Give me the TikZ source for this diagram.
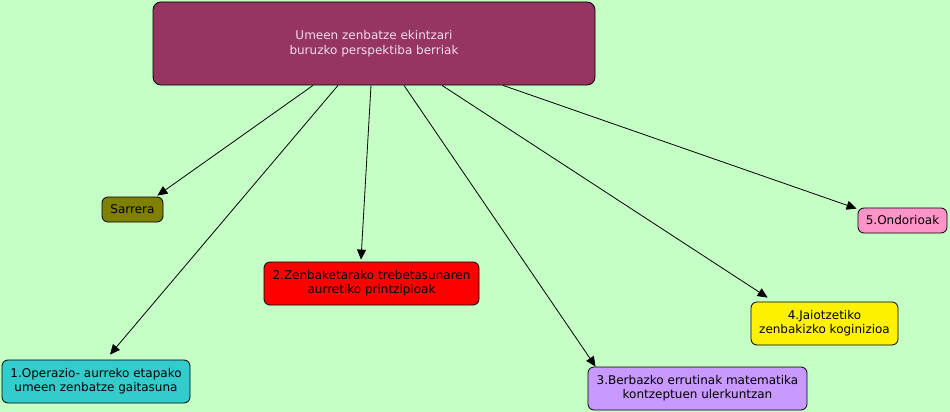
\documentclass[tikz,border=0pt]{standalone}
\usepackage{fontspec}
\setmainfont{DejaVu Sans}
\usetikzlibrary{arrows.meta}
\definecolor{bgc}{RGB}{197,255,197}
\definecolor{mainc}{RGB}{150,52,98}
\definecolor{mtext}{RGB}{245,220,236}
\definecolor{olivec}{RGB}{128,128,0}
\definecolor{tealc}{RGB}{51,204,204}
\definecolor{lavc}{RGB}{200,153,255}
\definecolor{pinkc}{RGB}{255,148,200}
\tikzset{
  box/.style={draw=black, line width=0.8pt, rounded corners=6pt, align=center,
    inner sep=0pt, font=\fontsize{12}{14}\selectfont, text=black},
  conn/.style={line width=0.8pt, -{Triangle[length=10pt,width=9pt]}},
}
\begin{document}
\begin{tikzpicture}[x=1pt,y=-1pt]
\fill[bgc] (0,0) rectangle (950,412);
\useasboundingbox (0,0) rectangle (950,412);
\node[box, fill=mainc, text=mtext, rounded corners=8pt, minimum width=442pt, minimum height=83pt,
  font=\fontsize{12}{15}\selectfont] (main) at (374,43.5) {Umeen zenbatze ekintzari\\buruzko perspektiba berriak};
\node[box, fill=olivec, minimum width=61pt, minimum height=25pt] (sar) at (132.5,209.5) {Sarrera};
\node[box, fill=red, minimum width=215pt, minimum height=43pt] (n2) at (371.5,283.5) {2.Zenbaketarako trebetasunaren\\aurretiko printzipioak};
\node[box, fill=tealc, minimum width=188pt, minimum height=43pt] (n1) at (96,381.5) {1.Operazio- aurreko etapako\\umeen zenbatze gaitasuna};
\node[box, fill=lavc, minimum width=219pt, minimum height=43pt] (n3) at (697.5,388.5) {3.Berbazko errutinak matematika\\kontzeptuen ulerkuntzan};
\node[box, fill=yellow, minimum width=147pt, minimum height=43pt] (n4) at (824.5,323.5) {4.Jaiotzetiko\\zenbakizko koginizioa};
\node[box, fill=pinkc, minimum width=89pt, minimum height=25pt] (n5) at (902.5,220.5) {5.Ondorioak};

\draw[conn] ([xshift=-61pt]main.south) -- ([xshift=-6pt,yshift=1pt]sar.north east);
\draw[conn] ([xshift=-36pt]main.south) -- ([xshift=14pt,yshift=5pt]n1.north);
\draw[conn] ([xshift=-3pt]main.south) -- ([xshift=-10.5pt,yshift=2pt]n2.north);
\draw[conn] ([xshift=30pt]main.south) -- ([xshift=8pt]n3.north west);
\draw[conn] ([xshift=68pt]main.south) -- ([xshift=17pt,yshift=4pt]n4.north west);
\draw[conn] ([xshift=129pt]main.south) -- ([xshift=-1pt,yshift=-1pt]n5.north west);
\end{tikzpicture}
\end{document}
